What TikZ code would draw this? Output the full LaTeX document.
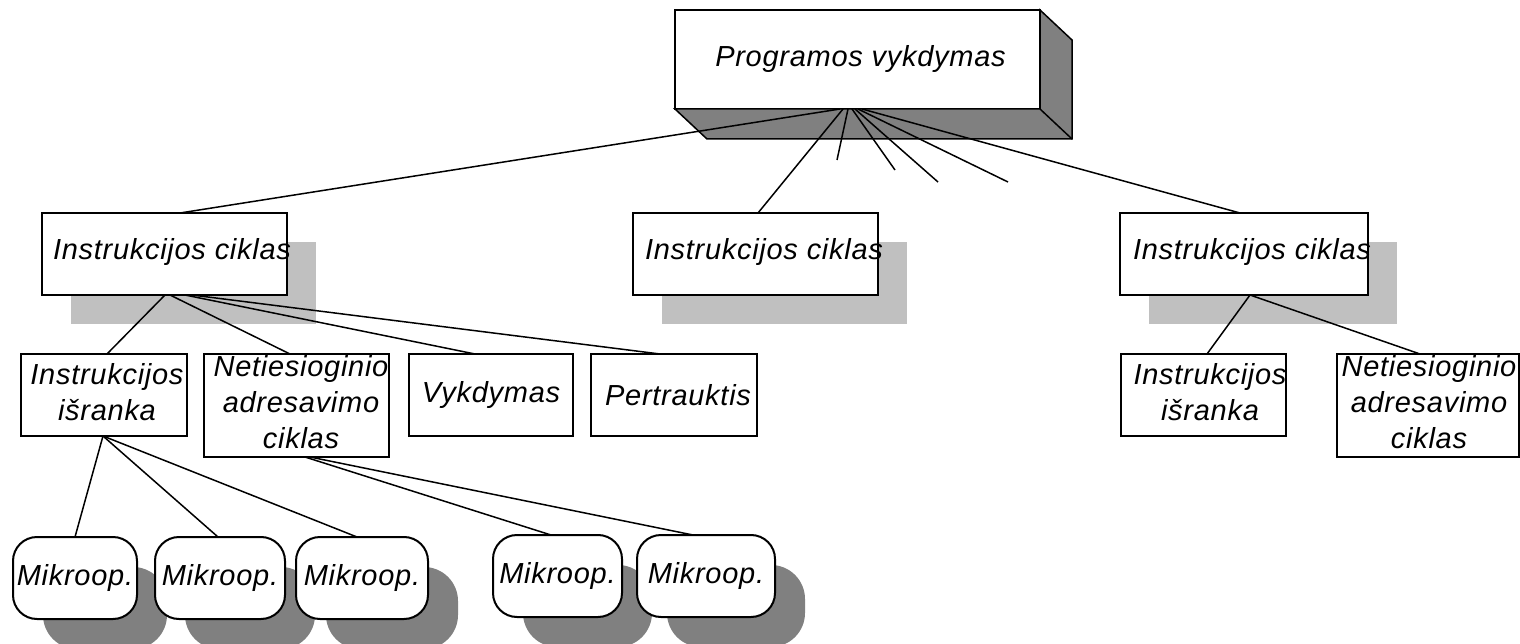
\documentclass[tikz,border=0pt]{standalone}
\usepackage{fontspec}
\newfontfamily\diagfont{Liberation Sans}[LetterSpace=2.5]
\usetikzlibrary{calc,shadows}
\definecolor{lightshade}{HTML}{C0C0C0}
\definecolor{darkshade}{HTML}{808080}
\begin{document}
\begin{tikzpicture}[x=1pt,y=-1pt,
  every node/.style={font=\diagfont\itshape\fontsize{29}{36}\selectfont,
                     inner sep=0pt, outer sep=0pt},
  framebox/.style={draw=black, line width=2pt, fill=white, anchor=north west},
  cyclebox/.style={framebox, minimum width=245pt, minimum height=82pt,
     drop shadow={shadow xshift=29pt, shadow yshift=-29pt, opacity=1, fill=lightshade}},
  stagebox/.style={framebox, minimum height=82pt},
  opbox/.style={framebox, rounded corners=24pt, minimum height=82pt},
  opshadow/.style={fill=darkshade, rounded corners=34pt, minimum height=82pt, anchor=north west},
  lbl/.style={align=center},
  wire/.style={draw=black, line width=1.5pt},
  face/.style={fill=darkshade, draw=black, line width=1.5pt, line join=miter},
]
\useasboundingbox (0,0) rectangle (1520,644);
\clip (0,0) rectangle (1520,644);

% --- top block (raised box) ---
\node[framebox, minimum width=365pt, minimum height=99pt] (top) at (675,10) {};
\filldraw[face] (top.north east) -- ($(top.north east)+(32,30)$) -- ($(top.south east)+(32,30)$)
   -- ($(top.south west)+(32,30)$) -- (top.south west) -- (top.south east) -- cycle;
\draw[line width=1.5pt] (top.south east) -- ($(top.south east)+(32,30)$);
\node[anchor=base] (toptxt) at ($(top.north)+(3,57)$) {Programos vykdymas};

% --- instruction cycles ---
\node[cyclebox] (c1) at (42,213) {};
\node[cyclebox] (c2) at (633,213) {};
\node[cyclebox, minimum width=248pt] (c3) at (1120,213) {};
\node[anchor=base west] (c1t) at ($(c1.north west)+(11,47)$) {Instrukcijos ciklas};
\node[anchor=base west] (c2t) at ($(c2.north west)+(12,47)$) {Instrukcijos ciklas};
\node[anchor=base west] (c3t) at ($(c3.north west)+(13,47)$) {Instrukcijos ciklas};

% --- stages, left cycle ---
\node[stagebox, minimum width=166pt] (i1) at (21,354) {};
\node[lbl] (i1t) at ($(i1.center)+(3,-2.5)$) {Instrukcijos\\išranka};
\node[stagebox, minimum width=185pt, minimum height=103pt] (n1) at (204,354) {};
\begin{scope}
  \clip ([shift={(1,1)}]n1.north west) rectangle ([shift={(-1,-1)}]n1.south east);
  \node[lbl] (n1t) at ($(n1.center)+(4.5,-3)$) {Netiesioginio\\adresavimo\\ciklas};
\end{scope}
\node[stagebox, minimum width=164pt] (v1) at (409,354) {Vykdymas};
\node[stagebox, minimum width=166pt, text depth=0pt] (p1) at (591,354) {\hspace*{8pt}Pertrauktis};

% --- stages, right cycle ---
\node[stagebox, minimum width=165pt] (i2) at (1121,354) {};
\node[lbl] (i2t) at ($(i2.center)+(6.5,-2.5)$) {Instrukcijos\\išranka};
\node[stagebox, minimum width=182pt, minimum height=103pt] (n2) at (1337,354) {};
\begin{scope}
  \clip ([shift={(1,1)}]n2.north west) rectangle ([shift={(-1,-1)}]n2.south east);
  \node[lbl] (n2t) at ($(n2.center)+(1,-3)$) {Netiesioginio\\adresavimo\\ciklas};
\end{scope}

% --- micro-operations, each with its shadow behind it ---
\node[opshadow, minimum width=124pt] (m1s) at (43,567) {};
\node[opbox, minimum width=124pt] (m1) at (13,537) {Mikroop.};
\node[opshadow, minimum width=130pt] (m2s) at (185,567) {};
\node[opbox, minimum width=130pt] (m2) at (155,537) {Mikroop.};
\node[opshadow, minimum width=132pt] (m3s) at (326,567) {};
\node[opbox, minimum width=132pt] (m3) at (296,537) {Mikroop.};
\node[opshadow, minimum width=129pt] (m4s) at (523,565) {};
\node[opbox, minimum width=129pt] (m4) at (493,535) {Mikroop.};
\node[opshadow, minimum width=138pt] (m5s) at (667,565) {};
\node[opbox, minimum width=138pt] (m5) at (637,535) {Mikroop.};

% --- loose connector ends under the top block ---
\coordinate (d1) at (837,160);
\coordinate (d2) at (895,170);
\coordinate (d3) at (938,182);
\coordinate (d4) at (1008,182);

% --- connectors ---
\draw[wire] ([xshift=-17.5]top.south) -- ([xshift=15.5]c1.north);
\draw[wire] ([xshift=-14.5]top.south) -- ([xshift=2.5]c2.north);
\draw[wire] ([xshift=-9.5]top.south) -- (d1);
\draw[wire] ([xshift=-5.5]top.south) -- (d2);
\draw[wire] ([xshift=-2.5]top.south) -- (d3);
\draw[wire] ([xshift=0.5]top.south) -- (d4);
\draw[wire] ([xshift=4.5]top.south) -- ([xshift=-4]c3.north);

\draw[wire] ([xshift=0.5]c1.south) -- ([xshift=3]i1.north);
\draw[wire] ([xshift=5.5]c1.south) -- ([xshift=-6.5]n1.north);
\draw[wire] ([xshift=20.5]c1.south) -- ([xshift=-16]v1.north);
\draw[wire] ([xshift=27.5]c1.south) -- ([xshift=-14]p1.north);

\draw[wire] ([xshift=6]c3.south) -- ([xshift=3.5]i2.north);
\draw[wire] ([xshift=6]c3.south) -- ([xshift=-8]n2.north);

\draw[wire] ([xshift=-1]i1.south) -- (m1.north);
\draw[wire] ([xshift=-1]i1.south) -- ([xshift=-2]m2.north);
\draw[wire] ([xshift=-1]i1.south) -- ([xshift=-5]m3.north);

\draw[wire] ([xshift=8.5]n1.south) -- ([xshift=-6.5]m4.north);
\draw[wire] ([xshift=13.5]n1.south) -- ([xshift=-13]m5.north);
\end{tikzpicture}
\end{document}
